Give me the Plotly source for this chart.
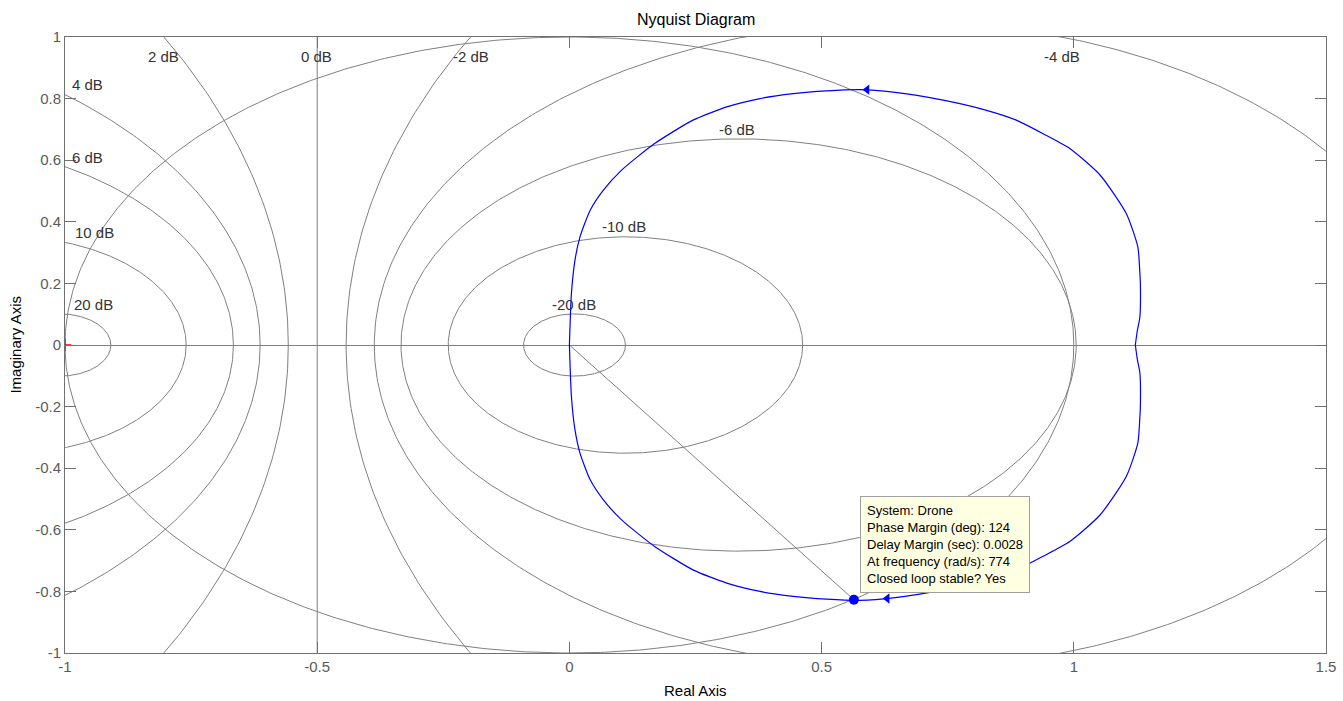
import numpy as np
import plotly.graph_objects as go

# ---------------- data ----------------
# constant closed-loop magnitude contours (M-circles), dB
m_db = [20, 10, 6, 4, 2, -2, -4, -6, -10, -20]

# contour labels as placed on the chart
label_text = ["20 dB", "10 dB", "6 dB", "4 dB", "2 dB", "0 dB",
              "-2 dB", "-4 dB", "-6 dB", "-10 dB", "-20 dB"]
label_x = [-0.944, -0.942, -0.955, -0.955, -0.804, -0.502,
           -0.196, 0.976, 0.333, 0.109, 0.010]
label_y = [0.132, 0.364, 0.608, 0.846, 0.937, 0.937,
           0.937, 0.937, 0.700, 0.385, 0.132]

# Nyquist curve, positive-imaginary half
nyq_re = [1.122, 1.126, 1.131, 1.132, 1.131, 1.127, 1.104, 1.052, 0.992, 0.939,
          0.886, 0.827, 0.741, 0.642, 0.576, 0.510, 0.444, 0.378, 0.312,
          0.245, 0.169, 0.103, 0.067, 0.041, 0.021, 0.011, 0.004, 0.0]
nyq_im = [0.0, 0.047, 0.091, 0.200, 0.232, 0.318, 0.427, 0.552, 0.638, 0.686,
          0.730, 0.762, 0.795, 0.821, 0.829, 0.825, 0.816, 0.800, 0.773,
          0.730, 0.654, 0.567, 0.502, 0.437, 0.351, 0.275, 0.167, 0.0]

# stability-margin point (phase margin 124 deg)
pm_re = [0.564]
pm_im = [-0.827]

# direction arrows
arrow_re = [0.590, 0.630]
arrow_im = [0.829, -0.823]

xtick_vals = [-1, -0.5, 0, 0.5, 1, 1.5]
xtick_text = ["-1", "-0.5", "0", "0.5", "1", "1.5"]
ytick_vals = [-1, -0.8, -0.6, -0.4, -0.2, 0, 0.2, 0.4, 0.6, 0.8, 1]
ytick_text = ["-1", "-0.8", "-0.6", "-0.4", "-0.2", "0", "0.2", "0.4", "0.6", "0.8", "1"]

datatip_lines = ["System: Drone", "Phase Margin (deg): 124", "Delay Margin (sec): 0.0028",
                 "At frequency (rad/s): 774", "Closed loop stable? Yes"]

# ---------------- figure ----------------
FONT = "Liberation Sans, Arial, Helvetica, sans-serif"
GRID = "#808080"
fig = go.Figure()

theta = np.linspace(0, 2 * np.pi, 721)
for db in m_db:
    M = 10 ** (db / 20.0)
    c = -M ** 2 / (M ** 2 - 1)
    r = abs(M / (M ** 2 - 1))
    fig.add_trace(go.Scatter(x=c + r * np.cos(theta), y=r * np.sin(theta), mode="lines",
                             line=dict(color=GRID, width=1), hoverinfo="skip", showlegend=False))
# 0 dB contour
fig.add_trace(go.Scatter(x=[-0.5, -0.5], y=[-1, 1], mode="lines",
                         line=dict(color=GRID, width=1), hoverinfo="skip", showlegend=False))
# unit circle
fig.add_trace(go.Scatter(x=np.cos(theta), y=np.sin(theta), mode="lines",
                         line=dict(color=GRID, width=1), hoverinfo="skip", showlegend=False))
# phase margin line
fig.add_trace(go.Scatter(x=[0, pm_re[0]], y=[0, pm_im[0]], mode="lines",
                         line=dict(color=GRID, width=1), hoverinfo="skip", showlegend=False))

# Nyquist curve (both halves)
fig.add_trace(go.Scatter(x=nyq_re, y=nyq_im, mode="lines",
                         line=dict(color="#0000ff", width=1.2, shape="spline", smoothing=0.6),
                         showlegend=False))
fig.add_trace(go.Scatter(x=nyq_re, y=[-v for v in nyq_im], mode="lines",
                         line=dict(color="#0000ff", width=1.2, shape="spline", smoothing=0.6),
                         showlegend=False))
# arrows
fig.add_trace(go.Scatter(x=arrow_re, y=arrow_im, mode="markers",
                         marker=dict(symbol="triangle-left", size=9, color="#0000ff"),
                         showlegend=False))
# margin marker
fig.add_trace(go.Scatter(x=pm_re, y=pm_im, mode="markers",
                         marker=dict(symbol="circle", size=10, color="#0000ff"),
                         showlegend=False))
# critical point
fig.add_trace(go.Scatter(x=[-1], y=[0], mode="markers",
                         marker=dict(symbol="cross-thin", size=9, line=dict(color="#ff0000", width=1.5)),
                         showlegend=False))

annotations = []
for t, x, y in zip(label_text, label_x, label_y):
    annotations.append(dict(x=x, y=y, xref="x", yref="y", text=t, showarrow=False,
                            font=dict(family=FONT, size=15, color="#333333"),
                            xanchor="center", yanchor="middle"))

annotations.append(dict(x=0.576, y=-0.491, xref="x", yref="y", text="<br>".join(datatip_lines),
                        showarrow=False, align="left", xanchor="left", yanchor="top",
                        font=dict(family=FONT, size=13, color="#000000"),
                        bgcolor="#ffffe1", bordercolor="#a0a0a0", borderwidth=1, borderpad=6))

# titles
annotations.append(dict(x=0.5, y=1.0276, xref="paper", yref="paper", text="Nyquist Diagram",
                        showarrow=False, font=dict(family=FONT, size=16, color="#000000"),
                        xanchor="center", yanchor="middle"))
annotations.append(dict(x=0.5, y=-0.0606, xref="paper", yref="paper", text="Real Axis",
                        showarrow=False, font=dict(family=FONT, size=15, color="#000000"),
                        xanchor="center", yanchor="middle"))
annotations.append(dict(x=-0.040, y=0.5, xref="paper", yref="paper", text="Imaginary Axis",
                        showarrow=False, textangle=-90, font=dict(family=FONT, size=15, color="#000000"),
                        xanchor="center", yanchor="middle"))

axis_common = dict(showgrid=False, ticks="inside", ticklen=11, tickcolor="#707070",
                   showline=True, linecolor="#707070", linewidth=1, mirror="ticks",
                   automargin=False,
                   tickfont=dict(family=FONT, size=15, color="#5a5a5a"))

fig.update_layout(
    width=1343, height=701,
    margin=dict(l=65, r=17, t=37, b=48),
    paper_bgcolor="white", plot_bgcolor="white",
    xaxis=dict(range=[-1, 1.5], tickvals=xtick_vals, ticktext=xtick_text, zeroline=False,
               **axis_common),
    yaxis=dict(range=[-1, 1], tickvals=ytick_vals, ticktext=ytick_text, zeroline=True,
               zerolinecolor=GRID, zerolinewidth=1, **axis_common),
    annotations=annotations,
    showlegend=False,
)

fig.write_html("out.html", config={"displayModeBar": False},
               post_script="document.body.style.margin='0';document.body.style.overflow='hidden';")
